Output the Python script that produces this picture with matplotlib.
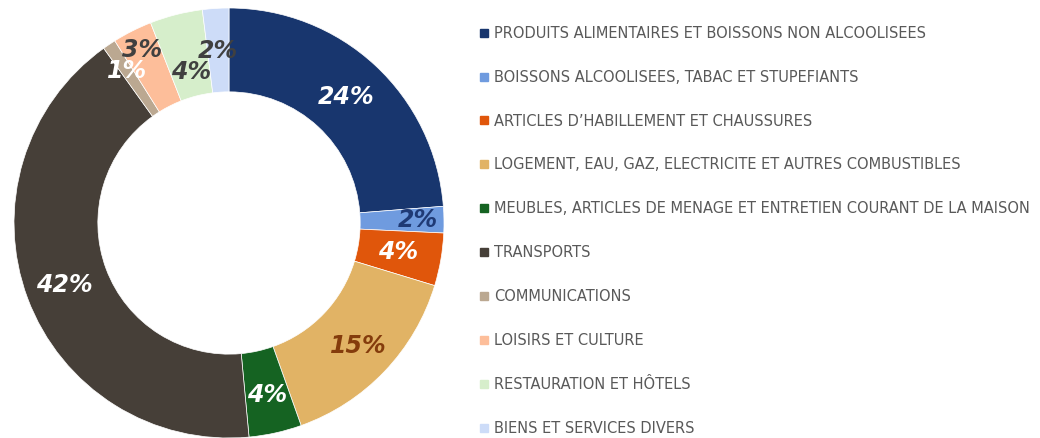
import matplotlib.pyplot as plt
from matplotlib.lines import Line2D
import numpy as np

# budget shares by spending category (%)
categories = [
    "PRODUITS ALIMENTAIRES ET BOISSONS NON ALCOOLISEES",
    "BOISSONS ALCOOLISEES, TABAC ET STUPEFIANTS",
    "ARTICLES D\u2019HABILLEMENT ET CHAUSSURES",
    "LOGEMENT, EAU, GAZ, ELECTRICITE ET AUTRES COMBUSTIBLES",
    "MEUBLES, ARTICLES DE MENAGE ET ENTRETIEN COURANT DE LA MAISON",
    "TRANSPORTS",
    "COMMUNICATIONS",
    "LOISIRS ET CULTURE",
    "RESTAURATION ET HÔTELS",
    "BIENS ET SERVICES DIVERS",
]
shares = [24, 2, 4, 15, 4, 42, 1, 3, 4, 2]

colors = ["#18366e", "#6f9bdf", "#e0560b", "#e1b365", "#156322",
          "#463f38", "#bba891", "#fdbe9a", "#d6eecb", "#cddcf8"]
label_colors = ["white", "#1f3a75", "white", "#843c0c", "white",
                "white", "white", "#404040", "#404040", "#404040"]
# radial position of each percentage label
label_r = [0.80, 0.88, 0.80, 0.83, 0.82, 0.82, 0.85, 0.90, 0.725, 0.80]

fig = plt.figure(figsize=(10.4, 4.38), dpi=100)
ax = fig.add_axes([14 / 1040, 0.0, 430 / 1040, 430 / 438])

wedges, _ = ax.pie(
    shares, colors=colors, startangle=90, counterclock=False, radius=1.0,
    wedgeprops=dict(width=0.39, edgecolor="white", linewidth=0.5),
)
for w, v, c, r in zip(wedges, shares, label_colors, label_r):
    ang = np.deg2rad((w.theta1 + w.theta2) / 2)
    ax.text(r * np.cos(ang), r * np.sin(ang), f"{v}%", color=c,
            fontsize=17, fontweight="bold", fontstyle="italic",
            ha="center", va="center")
ax.set_xlim(-1, 1)
ax.set_ylim(-1, 1)
ax.set_aspect("equal")

handles = [Line2D([], [], marker="s", linestyle="none", markersize=5.5,
                  markerfacecolor=c, markeredgecolor=c) for c in colors]
fig.legend(handles, categories, loc="upper left",
           bbox_to_anchor=(474 / 1040, 1 - 20 / 438), frameon=False,
           fontsize=10.5, labelcolor="#595959", handlelength=0.6,
           handletextpad=0.35, labelspacing=1.98, borderaxespad=0)

fig.savefig("out.png", dpi=100)
